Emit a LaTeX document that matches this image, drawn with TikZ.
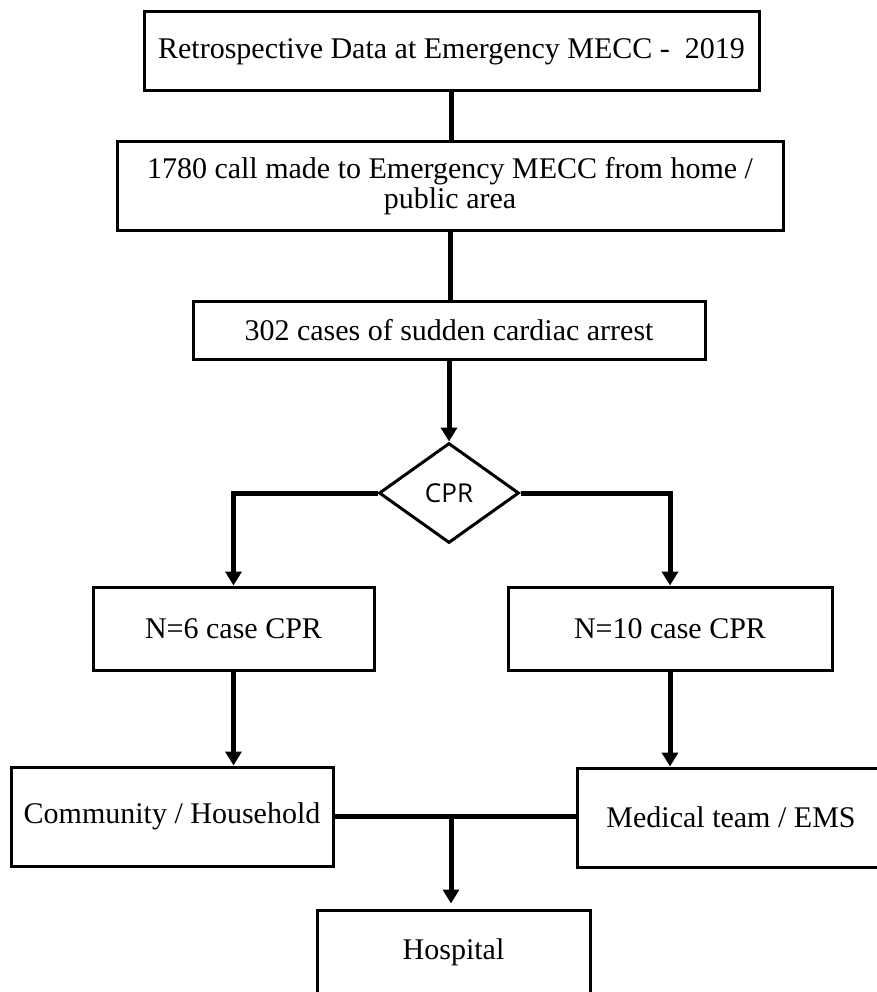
\documentclass[tikz,border=0pt]{standalone}
\usepackage{fontspec}
\setmainfont{Liberation Serif}
\newfontfamily\cprfont{Open Sans}
\usetikzlibrary{shapes.geometric,arrows.meta}
\tikzset{
  box/.style={draw=black, line width=3pt, fill=white, inner sep=0pt, align=center,
              font=\fontsize{30}{30}\selectfont},
  decision/.style={draw=black, line width=3pt, shape=diamond, inner sep=0pt,
              minimum width=140pt, minimum height=100pt, font=\cprfont\fontsize{26}{26}\selectfont},
  conn/.style={draw=black, line width=5pt},
  arr/.style={conn, -{Triangle[length=14pt,width=16pt]}}
}
\begin{document}
\begin{tikzpicture}[x=1pt,y=-1pt]
\useasboundingbox (0,0) rectangle (877,992);
\node[box, minimum width=615pt, minimum height=79pt] (b1) at (451.5,51.5)
  {Retrospective Data at Emergency MECC -\ \ 2019};
\node[box, minimum width=666pt, minimum height=89pt] (b2) at (450,186.5)
  {1780 call made to Emergency MECC from home /\\public area};
\node[box, minimum width=512pt, minimum height=58pt] (b3) at (449,330)
  {302 cases of sudden cardiac arrest};
\node[decision] (cpr) at (449,493) {CPR};
\node[box, minimum width=281pt, minimum height=83pt] (n6) at (233.5,628.5) {N=6 case CPR};
\node[box, minimum width=324pt, minimum height=83pt] (n10) at (670,628.5) {N=10 case CPR};
\node[box, minimum width=322pt, minimum height=99pt] (comm) at (172,816.5) {Community / Household};
\node[box, minimum width=308pt, minimum height=99pt] (med) at (731,817.5) {Medical team / EMS};
\node[box, minimum width=273pt, minimum height=85pt] (hosp) at (453.5,952.5) {Hospital};

\draw[conn] (b1.south) -- (b1.south |- b2.north);
\draw[conn] (b2.south) -- (b2.south |- b3.north);
\draw[arr] (b3.south) -- (cpr.north);
\draw[arr] (cpr.west) -| (n6.north);
\draw[arr] (cpr.east) -| (n10.north);
\draw[arr] (n6.south) -- (n6.south |- comm.north);
\draw[arr] (n10.south) -- (n10.south |- med.north);
\draw[conn] (comm.east) -- (comm.east -| med.west);
\coordinate (j) at (451,816.5);
\draw[arr, shorten >=5pt] (j) -- (j |- hosp.north);
\end{tikzpicture}
\end{document}
